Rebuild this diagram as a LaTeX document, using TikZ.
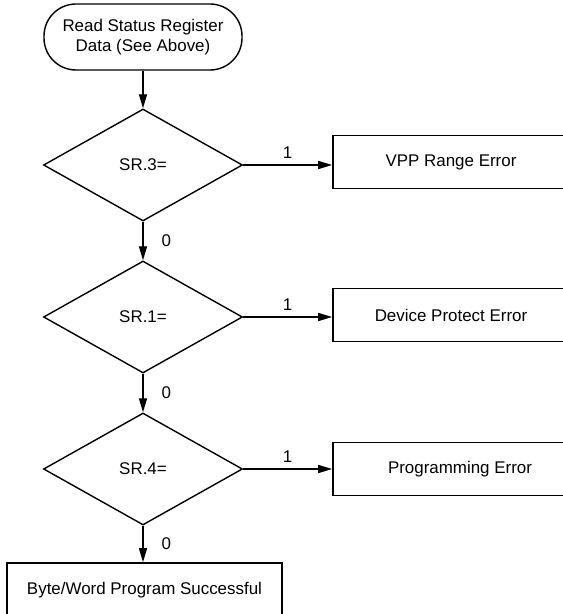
\documentclass[tikz,border=0pt]{standalone}
\usepackage{fontspec}
\setmainfont{Liberation Sans}
\usetikzlibrary{shapes.geometric,arrows.meta}
\tikzset{flowline/.style={line width=1.4bp, -{Triangle[length=14bp,width=8bp]}},
         startbox/.style={draw, line width=1.4bp, rounded corners=32bp,
                          minimum width=198bp, minimum height=66bp, align=center},
         testbox/.style={draw, diamond, line width=1.4bp, inner sep=0pt,
                         minimum width=199bp, minimum height=112bp},
         statebox/.style={draw, rectangle, line width=1.6bp, minimum height=53bp},
         branch/.style={inner sep=0pt}}

\begin{document}
\begin{tikzpicture}[x=1bp, y=1bp, font=\fontsize{17}{20}\selectfont]
            \useasboundingbox (0,0) rectangle (563,-614);

            \node[startbox] (start) at (143,-37) {Read Status Register\\Data (See Above)};

                    \node[testbox] (sr3) at (143,-165) {SR.3=};
                    \node[testbox] (sr1) at (143,-317) {SR.1=};
                    \node[testbox] (sr4) at (143,-469) {SR.4=};

                    \node[statebox, minimum width=236bp] (vpp) at (451,-162) {VPP Range Error};
                    \node[statebox, minimum width=236bp] (prot) at (451,-315) {Device Protect Error};
                    \node[statebox, minimum width=254bp] (perr) at (460,-469) {Programming Error};
                    \node[statebox, minimum width=275bp, minimum height=54bp] (done) at (144.5,-590) {Byte/Word Program Successful};

                    \draw[flowline] (start) -- (sr3);
                    \draw[flowline] (sr3) -- node[branch, right=18bp] {0} (sr1);
                    \draw[flowline] (sr1) -- node[branch, right=18bp] {0} (sr4);
                    \draw[flowline] (sr4.south) -- node[branch, right=18bp] {0} (sr4.south |- done.north);

                    \draw[flowline] (sr3.east) -- node[branch, above=6bp] {1} (sr3.east -| vpp.west);
                    \draw[flowline] (sr1.east) -- node[branch, above=6bp] {1} (sr1.east -| prot.west);
                    \draw[flowline] (sr4.east) -- node[branch, above=6bp] {1} (sr4.east -| perr.west);
        \end{tikzpicture}
\end{document}
